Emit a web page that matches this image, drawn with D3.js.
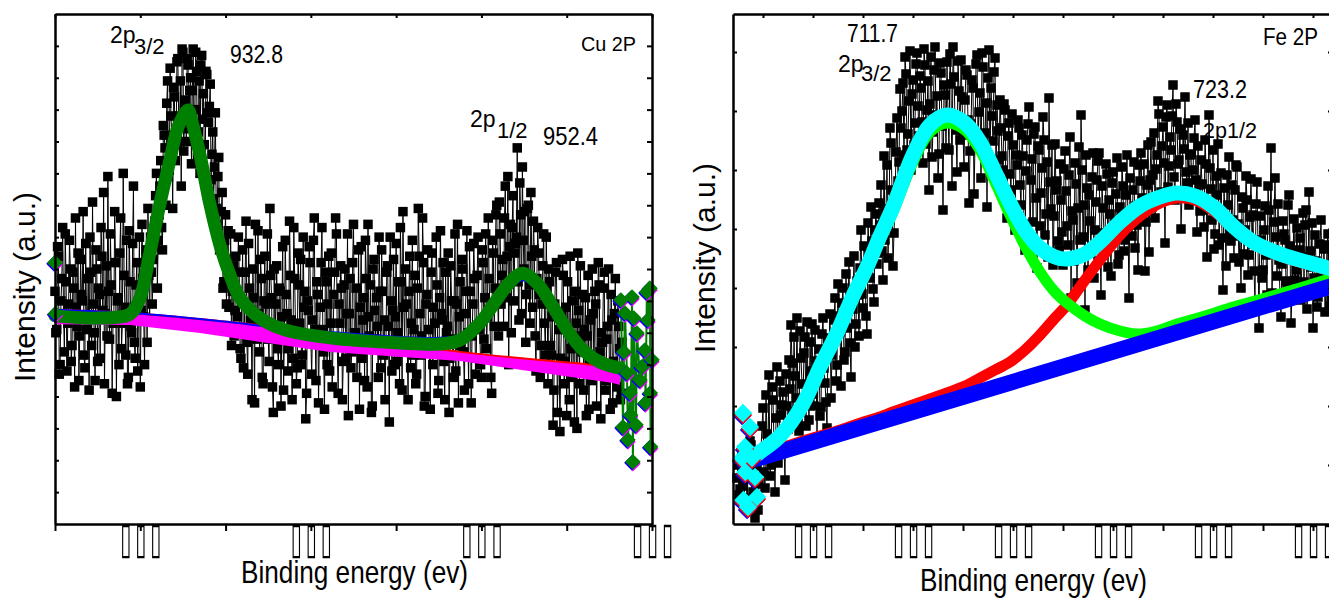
<!DOCTYPE html>
<html>
<head>
<script src="https://d3js.org/d3.v7.min.js"></script>
<style>
  body { margin: 0; background: #fff; }
  svg text { font-family: "Liberation Sans", Arial, sans-serif; fill: #000; }
</style>
</head>
<body>
<svg class="chart"></svg>
<script>
// ---------- Cu 2p panel ----------
// scan read at 0.1 eV from 925.0, plus the in-between points at +0.05 eV
var cuStart = 925.0, cuStep = 0.05;
var cuCounts = [
  7.3, 6.1, 8.4, 5.0, 7.7, 6.6, 9.1, 4.8, 6.9, 8.0,
  5.6, 7.4, 9.6, 6.2, 4.5, 8.3, 7.0, 5.3, 8.8, 6.4,
  4.2, 7.9, 10.1, 6.0, 8.6, 5.1, 7.2, 9.3, 6.7, 4.4,
  8.1, 10.9, 5.8, 7.5, 6.3, 9.8, 4.0, 7.1, 8.5, 5.5,
  11.0, 6.8, 8.9, 4.6, 7.6, 6.0, 10.6, 5.2, 8.2, 7.0,
  4.3, 9.4, 6.5, 8.0, 5.7, 7.8, 9.0, 6.9, 8.7, 10.3,
  7.4, 9.7, 11.4, 8.6, 12.2, 10.0, 13.9, 11.1, 12.8, 9.9,
  13.4, 11.9, 14.6, 12.5, 10.6, 14.8, 13.1, 12.0, 14.4, 13.6,
  11.3, 14.9, 13.0, 14.2, 12.3, 11.0, 14.7, 13.5, 10.8, 14.1,
  12.6, 13.8, 11.6, 10.2, 12.9, 9.4, 11.5, 8.8, 10.4, 7.6,
  9.7, 8.3, 6.8, 9.1, 7.3, 5.9, 8.4, 6.5, 7.9, 5.2,
  8.6, 6.1, 9.5, 4.7, 7.4, 6.7, 8.0, 3.8, 6.3, 9.2,
  5.4, 7.7, 4.4, 8.4, 6.9, 5.8, 9.9, 7.1, 3.5, 6.0,
  8.1, 5.0, 7.3, 6.5, 4.2, 8.9, 6.6, 5.5, 7.8, 3.9,
  9.3, 6.2, 4.9, 7.5, 8.3, 5.3, 6.8, 3.3, 7.0, 8.7,
  5.7, 6.4, 9.6, 4.5, 7.2, 5.9, 8.2, 6.1, 3.6, 7.6,
  6.9, 4.8, 8.5, 5.6, 7.9, 9.1, 4.1, 6.3, 7.4, 5.1,
  8.0, 6.6, 3.4, 7.7, 5.4, 9.4, 6.0, 4.6, 8.6, 6.8,
  5.2, 7.1, 8.9, 4.3, 6.5, 7.5, 3.7, 8.3, 5.8, 6.2,
  9.0, 4.9, 7.3, 6.4, 5.5, 8.1, 3.2, 7.0, 6.7, 5.0,
  8.8, 6.0, 4.4, 7.6, 9.8, 5.7, 6.9, 3.9, 8.4, 6.3,
  5.3, 7.8, 4.7, 9.9, 6.6, 5.9, 8.2, 4.0, 7.2, 6.1,
  3.6, 8.5, 6.8, 5.4, 7.5, 4.5, 9.2, 6.4, 5.1, 7.9,
  6.2, 3.5, 8.1, 5.8, 7.0, 4.8, 9.4, 6.5, 5.6, 8.0,
  4.2, 7.3, 6.0, 8.7, 3.8, 6.9, 7.7, 5.2, 9.0, 6.3,
  4.6, 8.2, 7.1, 5.5, 9.6, 6.7, 4.1, 8.5, 7.4, 10.0,
  5.9, 9.1, 7.8, 6.2, 10.6, 8.4, 5.0, 9.4, 9.3, 7.0,
  8.8, 11.8, 6.4, 9.7, 11.2, 8.0, 5.7, 9.9, 7.5, 10.4,
  6.8, 8.6, 4.8, 9.3, 7.2, 5.6, 8.1, 6.3, 9.0, 4.4,
  7.6, 5.3, 3.1, 6.9, 8.2, 4.9, 2.9, 6.6, 7.8, 5.1,
  3.4, 6.0, 8.4, 4.6, 5.8, 7.3, 3.0, 6.7, 8.1, 5.4,
  4.2, 7.1, 5.9, 3.6, 6.4, 8.0, 4.8, 6.9, 5.2, 7.5,
  3.3, 5.7, 7.9, 4.5, 6.2, 5.0, 7.2, 3.8, 6.6, 4.9,
  7.0, 5.5, 4.1
];
var cuCountsMid = [
  6.0, 8.7, 4.7, 7.0, 9.3, 5.4, 7.6, 6.3, 8.9, 5.1,
  7.9, 4.3, 6.8, 8.5, 5.9, 7.2, 9.8, 4.9, 6.1, 7.7,
  9.0, 5.6, 6.9, 4.5, 8.0, 7.4, 5.2, 8.4, 10.4, 6.6,
  5.9, 7.3, 9.1, 4.1, 6.5, 8.2, 7.0, 5.0, 9.6, 6.3,
  7.8, 5.3, 4.4, 9.2, 6.2, 8.8, 5.7, 7.5, 4.8, 9.0,
  6.7, 7.7, 5.0, 8.6, 9.9, 6.4, 7.9, 8.3, 9.5, 11.0,
  8.9, 10.6, 9.3, 12.5, 11.8, 13.2, 10.9, 14.3, 12.1, 13.7,
  11.4, 14.5, 12.8, 13.9, 14.9, 11.7, 13.3, 14.6, 12.4, 14.0,
  13.6, 12.2, 14.8, 11.5, 13.9, 14.4, 12.7, 11.9, 14.2, 12.9,
  13.1, 10.8, 12.3, 11.2, 9.9, 10.9, 8.6, 9.8, 7.4, 8.9,
  6.9, 9.2, 7.6, 5.6, 8.1, 6.7, 7.3, 9.0, 5.5, 7.0,
  4.9, 7.9, 5.7, 8.8, 6.4, 3.9, 7.1, 9.4, 5.8, 6.6,
  8.3, 4.6, 7.0, 6.2, 9.1, 5.1, 7.8, 4.3, 8.0, 6.9,
  5.5, 7.4, 3.7, 8.7, 6.0, 7.2, 4.8, 9.5, 6.4, 5.2,
  7.7, 4.4, 8.5, 6.3, 5.0, 9.0, 7.3, 4.1, 6.7, 8.2,
  4.7, 8.9, 6.1, 7.6, 3.8, 6.8, 9.3, 5.4, 7.9, 5.0,
  8.4, 6.3, 4.3, 7.2, 9.6, 5.6, 6.9, 8.1, 3.9, 7.5,
  5.2, 9.1, 6.6, 4.9, 8.2, 6.0, 7.4, 5.5, 3.6, 8.7,
  6.4, 4.5, 7.7, 9.4, 5.9, 3.5, 8.0, 6.7, 7.1, 4.6,
  7.3, 8.6, 5.3, 3.9, 7.9, 6.2, 9.0, 4.8, 8.3, 6.5,
  5.1, 7.6, 9.3, 4.2, 6.8, 8.0, 5.6, 7.3, 4.9, 8.9,
  6.1, 4.4, 7.4, 8.4, 5.3, 9.6, 3.7, 6.9, 8.6, 5.7,
  7.9, 5.0, 6.3, 9.0, 4.1, 7.1, 6.6, 8.2, 3.9, 6.0,
  8.5, 5.2, 7.0, 4.6, 9.1, 6.9, 3.8, 7.6, 8.3, 5.4,
  6.6, 9.2, 4.4, 7.3, 5.9, 8.8, 4.7, 7.8, 6.1, 5.0,
  8.6, 5.8, 9.1, 6.5, 7.7, 4.6, 8.9, 6.2, 9.7, 7.3,
  10.1, 6.9, 8.3, 9.6, 7.1, 10.9, 8.7, 6.0, 10.3, 8.5,
  9.0, 7.6, 10.7, 6.6, 8.9, 9.8, 7.2, 10.0, 6.3, 8.4,
  9.5, 5.9, 7.7, 8.5, 4.6, 6.9, 9.1, 5.3, 7.4, 8.0,
  5.6, 6.5, 4.2, 7.9, 3.5, 6.1, 5.2, 8.3, 4.4, 6.8,
  7.6, 3.9, 5.5, 7.0, 3.2, 6.3, 8.5, 4.4, 5.9, 7.2,
  6.1, 3.4, 7.8, 5.0, 4.5, 6.6, 7.3, 3.7, 8.2, 5.4,
  6.0, 7.4, 4.2, 5.8, 8.0, 3.6, 6.4, 5.1, 7.7, 4.3,
  6.2, 3.9, 5.7
];
var cuFitE = [925.0, 927.64, 929.4, 929.98, 930.57, 931.16, 931.74, 932.21, 932.8, 933.03,
  933.5, 934.09, 934.67, 935.26, 935.85, 937.02, 938.48, 941.12, 945.23, 947.57,
  948.74, 949.92, 950.8, 951.68, 952.4, 953.26, 954.14, 955.02, 955.96, 956.95, 958.12];
var cuEnvelope = [6.53, 6.46, 6.59, 7.09, 8.53, 10.07, 11.42, 12.45, 12.99, 12.61,
  11.58, 10.01, 8.75, 7.81, 7.09, 6.46, 6.09, 5.84, 5.68, 5.65,
  5.77, 6.31, 6.96, 7.59, 7.87, 7.56, 6.87, 6.09, 5.46, 5.08, 4.89];
var cuBlueE = [925.0, 929.4, 933.5, 939.36, 941.12, 945.23, 947.57, 948.74, 949.92, 950.8,
  951.68, 952.4, 953.26, 954.14, 955.02, 955.96, 956.95, 958.12];
var cuBlue = [6.71, 6.62, 6.43, 6.09, 6.02, 5.87, 5.84, 5.9, 6.09, 6.75,
  7.37, 7.65, 7.34, 6.65, 5.87, 5.27, 4.96, 4.86];
var cuBgE = [925.0, 929.4, 933.5, 941.12, 948.74, 957.71, 958.12];
var cuBgTop = [6.71, 6.62, 6.43, 5.99, 5.4, 4.93, 4.89];
var cuBgLow = [6.27, 6.24, 5.99, 5.4, 5.11, 4.42, 4.36];
var cuEdgeE = [925.0, 925.03, 958.18, 958.3, 958.36, 958.42, 958.53, 958.59, 958.71, 958.75,
  958.83, 958.88, 958.94, 959.06, 959.12, 959.3, 959.41, 959.59, 959.62, 959.7,
  959.76, 959.88, 959.9, 959.92, 960.0];
var cuEdge = [8.2, 6.6, 7.03, 3.04, 5.4, 6.62, 4.74, 2.64, 4.11, 3.42,
  7.12, 1.95, 6.46, 3.11, 5.99, 4.52, 4.93, 5.46, 3.8, 7.28,
  6.4, 7.4, 4.11, 2.42, 5.15];
var cuTicks = [925, 930, 935, 940, 945, 950, 955, 960];
var cuLabelled = [930, 940, 950, 960];
var cuYTicks = [1, 2, 3, 4, 5, 6, 7, 8, 9, 10, 11, 12, 13, 14, 15];

// ---------- Fe 2p panel ----------
var feStart = 701.2, feStep = 0.05;
var feCounts = [
  4.6, 2.9, 6.2, 3.8, 7.1, 1.9, 5.5, 7.9, 3.2, 0.6, 5.8, 4.1,
  7.4, 11.6, 3.6, 9.0, 14.9, 5.9, 12.4, 3.2, 15.7, 8.6, 10.9, 13.2, 4.4, 11.8, 16.4,
  19.9, 11.2, 14.8, 20.6, 9.3, 16.6, 12.4, 18.7, 20.2, 10.4,
  15.3, 13.0, 19.4, 8.6, 17.5, 11.7, 20.6, 14.1, 9.6, 17.9,
  12.6, 18.4, 22.6, 15.9, 20.8, 13.8, 23.6, 17.2, 19.6, 26.2, 14.7, 21.5, 17.7, 24.3, 18.8,
  29.4, 21.6, 25.4, 19.0, 27.4, 31.7, 23.5, 29.4, 26.0, 32.1,
  33.9, 24.4, 28.4, 35.9, 30.6, 38.1, 25.8, 32.4, 40.6, 36.2,
  39.6, 44.1, 46.7, 37.4, 42.3, 35.4, 44.4, 40.1, 47.1, 38.8,
  43.6, 36.1, 45.9, 41.4, 33.4, 46.7, 39.2, 47.7, 42.8, 37.0,
  45.1, 31.4, 42.9, 46.2, 37.4, 44.0, 47.7, 40.6, 35.2, 43.3,
  46.4, 38.9, 42.4, 44.9, 32.1, 40.0, 43.6, 37.9, 46.9, 41.2,
  34.6, 45.7, 39.1, 31.7, 47.4, 43.6, 38.3, 46.6, 41.9, 36.4,
  39.6, 35.4, 41.4, 30.6, 40.1, 33.4, 37.9, 29.4, 35.9, 39.6,
  31.9, 36.8, 27.4, 38.4, 41.7, 34.4, 30.2, 39.7, 25.6, 37.4,
  33.1, 40.7, 28.9, 36.2, 42.6, 31.5, 25.9, 38.0, 34.3, 27.4,
  32.4, 25.9, 37.3, 29.8, 34.9, 22.6, 30.4, 36.1, 24.1, 37.7,
  40.9, 28.7, 21.4, 33.6, 32.9, 27.1, 37.1, 29.4, 34.4, 37.1,
  22.9, 31.6, 27.9, 35.0, 32.4, 24.8, 35.2, 30.1, 36.6, 26.9,
  30.9, 33.8, 28.4, 36.9, 22.6, 31.2, 33.4, 27.6, 29.9, 35.9,
  37.1, 31.4, 25.3, 33.9, 27.2,
  38.2, 34.9, 30.6, 36.9, 41.0, 33.2, 39.7, 28.1, 41.9, 35.8,
  37.4, 43.9, 32.4, 40.2, 36.4, 29.5, 38.9, 42.7, 34.1, 31.9,
  37.0, 35.4, 40.4, 29.2, 33.9,
  36.4, 31.4, 38.4, 26.7, 40.9, 33.5, 37.4, 29.0, 32.9, 27.9,
  35.1, 23.4, 30.8, 34.9, 36.7, 28.3, 30.4, 33.4, 35.7, 26.2,
  23.6, 31.6, 29.4, 32.4, 26.9, 34.5, 30.9, 22.1, 34.2, 19.6,
  28.4, 25.4, 31.8, 22.9, 31.4, 37.6, 27.0, 34.6, 24.8, 26.4,
  20.7, 30.3, 28.4, 23.5, 32.9, 20.1, 26.8, 24.4, 29.6, 27.4,
  22.4, 31.1, 29.9, 21.5, 33.2, 25.7, 19.6, 28.9, 21.7, 25.9,
  30.4, 23.4, 21.2, 27.9, 24.9, 22.4
];
var feCountsMid = [
  5.9, 3.5, 7.4, 2.6, 6.0, 4.9, 8.3, 2.2, 6.8, 4.0, 1.4, 7.2,
  9.8, 5.2, 12.9, 7.0, 4.8, 13.7, 8.2, 10.6, 6.1, 14.3, 11.9, 7.6, 15.0, 9.5, 13.5,
  16.1, 18.7, 12.6, 10.1, 19.3, 14.0, 17.1, 9.8, 13.6, 18.2,
  20.0, 11.8, 16.3, 14.9, 10.8, 19.0, 15.6, 12.2, 18.6, 21.0,
  16.9, 20.4, 14.3, 24.0, 19.2, 22.1, 16.4, 25.0, 21.3, 18.1, 23.2, 26.8, 20.0, 22.9, 25.6,
  23.0, 27.8, 20.8, 30.1, 24.6, 28.3, 22.2, 31.0, 27.1, 29.9,
  27.3, 36.8, 31.5, 26.6, 39.6, 33.4, 29.1, 37.2, 34.3, 43.5,
  41.3, 36.9, 45.0, 39.0, 47.3, 43.0, 37.9, 46.0, 41.8, 44.8,
  40.2, 47.5, 38.0, 44.3, 42.0, 36.7, 45.4, 40.9, 34.6, 46.1,
  39.8, 43.9, 37.6, 41.0, 47.0, 33.8, 44.7, 39.4, 46.3, 38.4,
  42.7, 35.7, 45.4, 40.4, 37.3, 44.4, 33.0, 46.0, 39.0, 43.1,
  47.1, 37.8, 42.1, 44.6, 36.0, 40.8, 45.2, 34.9, 39.3, 42.4,
  36.8, 42.0, 32.5, 38.8, 35.0, 41.0, 31.2, 36.9, 40.4, 33.9,
  38.9, 30.0, 35.3, 40.0, 28.3, 36.5, 39.0, 32.6, 37.8, 29.8,
  35.6, 38.4, 31.0, 26.7, 34.2, 37.9, 30.8, 33.4, 28.3, 36.0,
  29.2, 35.5, 33.3, 27.9, 38.7, 31.3, 26.3, 34.0, 31.6, 28.4,
  35.4, 31.9, 36.9, 25.4, 30.3, 34.7, 24.6, 32.2, 36.3, 27.8,
  33.8, 29.1, 36.0, 25.7, 31.0, 34.1, 28.6, 33.0, 26.0, 31.7,
  35.7, 27.3, 32.9, 30.0, 34.6, 28.8, 36.2, 31.8, 25.4, 34.3,
  32.6, 36.0, 30.2, 37.9, 34.4,
  31.7, 39.1, 35.5, 42.3, 32.8, 37.8, 36.1, 40.7, 33.7, 38.7,
  40.8, 34.7, 42.0, 36.0, 39.5, 33.0, 37.5, 35.2, 40.1, 36.9,
  32.7, 38.6, 34.4, 37.8, 31.3,
  34.0, 29.7, 36.0, 32.2, 35.6, 30.4, 27.5, 34.8, 38.0, 31.0,
  28.6, 33.6, 25.8, 31.9, 29.0, 33.9, 26.6, 35.9, 30.0, 28.8,
  32.7, 27.0, 34.8, 24.9, 30.7, 28.0, 25.3, 32.0, 27.9, 30.8,
  24.6, 29.4, 26.9, 33.8, 27.5, 23.1, 30.2, 28.7, 32.0, 22.8,
  26.0, 29.0, 24.3, 31.9, 27.8, 22.9, 30.5, 25.4, 23.2, 28.6,
  26.7, 24.2, 31.4, 23.8, 27.3, 30.1, 24.6, 26.3, 22.7, 28.0,
  25.1, 27.5, 23.6, 29.0, 21.8, 26.7
];
var feFitE = [701.6, 702.35, 703.35, 704.5, 705.35, 706.2, 706.95, 707.7, 708.35, 709.0,
  710.0, 710.85, 711.7, 712.6, 713.35, 714.1, 714.85, 715.6, 716.35, 717.1,
  717.7, 718.6, 719.35, 720.35, 721.35, 722.35, 723.2, 724.1, 725.1, 726.0,
  727.1, 728.5, 729.85, 731.1];
var feEnvelope = [6.1, 7.2, 8.8, 12.0, 15.7, 19.1, 22.6, 25.7, 28.8, 31.7,
  36.9, 39.9, 40.9, 40.1, 38.2, 35.2, 32.1, 29.4, 27.6, 26.7,
  26.5, 27.0, 28.2, 30.2, 31.8, 32.7, 33.1, 32.8, 31.6, 29.8,
  28.1, 26.9, 26.1, 25.4];
var fePeak1 = [6.0, 7.1, 8.7, 11.9, 15.5, 18.8, 22.2, 25.4, 28.4, 31.2,
  36.2, 39.2, 40.1, 39.4, 37.4, 34.2, 30.9, 27.8, 25.2, 23.2,
  22.1, 20.8, 20.0, 19.3, 19.0, 19.4, 20.0, 20.5, 21.1, 21.7,
  22.3, 23.1, 23.9, 24.7];
var fePeak2 = [6.4, 7.1, 7.6, 8.3, 8.8, 9.3, 9.8, 10.3, 10.7, 11.2,
  11.9, 12.5, 13.1, 13.8, 14.6, 15.4, 16.2, 17.4, 18.9, 20.6,
  21.9, 24.4, 26.4, 28.9, 30.8, 32.1, 32.6, 32.4, 31.2, 29.6,
  27.9, 26.7, 25.9, 25.2];
var feBgE = [701.5, 702.5, 731.1];
var feBg = [6.2, 6.7, 23.9];
var feEdgeE = [701.45, 701.5, 701.52, 701.6, 701.62, 701.75, 701.85, 701.95, 702.1, 702.2];
var feEdge = [6.6, 11.1, 2.4, 7.7, 5.2, 1.7, 9.7, 6.6, 4.7, 2.7];
var feTicks = [702.5, 705, 707.5, 710, 712.5, 715, 717.5, 720, 722.5, 725, 727.5, 730];
var feLabelled = [705, 710, 715, 720, 725, 730];
var feYTicks = [5.9, 11.8, 17.7, 23.6, 29.5, 35.4, 41.3, 47.2];

var svg = d3.select(".chart").attr("width", 1329).attr("height", 599);

var cuX = d3.scaleLinear().domain([925, 960]).range([55, 652]),
    cuY = d3.scaleLinear().domain([0, 16]).range([524, 14]);
var feX = d3.scaleLinear().domain([701, 731]).range([733, 1333]),
    feY = d3.scaleLinear().domain([0, 51]).range([524, 14]);

function pairs(xs, ys) { return xs.map((x, i) => [x, ys[i]]); }
// interleave the 0.1 eV readings with the in-between ones
function scan(start, step, main, mid) {
  var out = [];
  main.forEach((v, i) => {
    out.push([start + 2 * i * step, v]);
    if (mid[i] !== undefined) out.push([start + (2 * i + 1) * step, mid[i]]);
  });
  return out;
}

function frame(x, y, ticks, labelled, yTicks) {
  var x0 = x.range()[0], x1 = x.range()[1], y0 = y.range()[0], y1 = y.range()[1];
  var b = svg.append("g").attr("transform", "translate(0," + y0 + ")")
    .call(d3.axisBottom(x).tickValues(ticks).tickSizeInner(7).tickSizeOuter(0)
      .tickFormat(d => labelled.indexOf(d) >= 0 ? "\u25AF\u25AF\u25AF" : ""));
  // narrow tall boxes, as in the original figure
  b.selectAll("text").attr("x", 4.25).attr("y", 28.5).attr("dy", null).attr("fill", "#000")
    .attr("transform", "scale(0.46,1)")
    .style("font-family", "'DejaVu Sans'").style("font-size", "44px")
    .style("letter-spacing", "8.5px").style("filter", "grayscale(1)");
  svg.append("g").attr("transform", "translate(0," + y1 + ")")
    .call(d3.axisTop(x).tickValues(ticks).tickSizeInner(-4).tickSizeOuter(0).tickFormat(""));
  svg.append("g").attr("transform", "translate(" + x0 + ",0)")
    .call(d3.axisLeft(y).tickValues(yTicks).tickSizeInner(-4).tickSizeOuter(0).tickFormat(""));
  svg.append("g").attr("transform", "translate(" + x1 + ",0)")
    .call(d3.axisRight(y).tickValues(yTicks).tickSizeInner(-5).tickSizeOuter(0).tickFormat(""));
  svg.selectAll(".domain").attr("stroke", "#000").attr("stroke-width", 2.5);
  svg.selectAll(".tick line").attr("stroke", "#000").attr("stroke-width", 2);
}

function scatter(data, x, y, size) {
  svg.append("path").datum(data)
    .attr("d", d3.line().x(d => x(d[0])).y(d => y(d[1])))
    .attr("fill", "none").attr("stroke", "#000").attr("stroke-width", 1);
  svg.append("g").selectAll("rect").data(data).enter().append("rect")
    .attr("x", d => x(d[0]) - size / 2).attr("y", d => y(d[1]) - size / 2)
    .attr("width", size).attr("height", size).attr("fill", "#000");
}

function curve(data, x, y, color, width) {
  svg.append("path").datum(data)
    .attr("d", d3.line().curve(d3.curveCatmullRom.alpha(0.5)).x(d => x(d[0])).y(d => y(d[1])))
    .attr("fill", "none").attr("stroke", color).attr("stroke-width", width)
    .attr("stroke-linecap", "round");
}

function diamonds(data, x, y, color, side, dx, dy) {
  svg.append("g").selectAll("rect").data(data).enter().append("rect")
    .attr("x", -side / 2).attr("y", -side / 2).attr("width", side).attr("height", side)
    .attr("transform", d => "translate(" + (x(d[0]) + dx) + "," + (y(d[1]) + dy) + ") rotate(45)")
    .attr("fill", color);
}

// ---- Cu panel drawing ----
scatter(scan(cuStart, cuStep, cuCounts, cuCountsMid), cuX, cuY, 9.5);
svg.append("path").datum(cuBgE.map((e, i) => [e, cuBgTop[i], cuBgLow[i]]))
  .attr("d", d3.area().x(d => cuX(d[0])).y0(d => cuY(d[2])).y1(d => cuY(d[1])))
  .attr("fill", "#ff00ff");
curve(pairs(cuBgE, cuBgTop), cuX, cuY, "#ff0000", 2);
curve(pairs(cuBlueE, cuBlue), cuX, cuY, "#0000ff", 2);
curve(pairs(cuFitE, cuEnvelope), cuX, cuY, "#008000", 13);
var cuEdgePts = pairs(cuEdgeE, cuEdge);
svg.append("path").datum(cuEdgePts.slice(2))
  .attr("d", d3.line().x(d => cuX(d[0])).y(d => cuY(d[1])))
  .attr("fill", "none").attr("stroke", "#008000").attr("stroke-width", 2);
diamonds(cuEdgePts, cuX, cuY, "#ff00ff", 11, 0, 2);
diamonds(cuEdgePts, cuX, cuY, "#0000ff", 11, -1, 1);
diamonds(cuEdgePts, cuX, cuY, "#008000", 11, 0, 0);

// ---- Fe panel drawing ----
scatter(scan(feStart, feStep, feCounts, feCountsMid), feX, feY, 9.5);
curve(pairs(feFitE, fePeak2), feX, feY, "#ff0000", 11);
curve(pairs(feFitE, fePeak1), feX, feY, "#00ff00", 11);
svg.append("path").datum(pairs(feBgE, feBg))
  .attr("d", d3.line().x(d => feX(d[0])).y(d => feY(d[1])))
  .attr("fill", "none").attr("stroke", "#0000ff").attr("stroke-width", 16);
curve(pairs(feFitE, feEnvelope), feX, feY, "#00ffff", 15);
var feEdgePts = pairs(feEdgeE, feEdge);
diamonds(feEdgePts, feX, feY, "#0000ff", 13, -1, 3);
diamonds(feEdgePts, feX, feY, "#ff0000", 13, 0, 2);
diamonds(feEdgePts, feX, feY, "#00ffff", 13, 0, 0);

frame(cuX, cuY, cuTicks, cuLabelled, cuYTicks);
frame(feX, feY, feTicks, feLabelled, feYTicks);

// ---- texts ----
function label(x, y, str, size, len) {
  var t = svg.append("text").attr("x", x).attr("y", y).style("font-size", size + "px").text(str);
  if (len) t.attr("textLength", len).attr("lengthAdjust", "spacingAndGlyphs");
  return t;
}
label(110, 43, "2p", 23); label(134, 54, "3/2", 22);
label(230, 63, "932.8", 25, 53);
label(470, 127, "2p", 23); label(497, 138, "1/2", 22);
label(543, 145, "952.4", 25, 55);
label(581, 51, "Cu 2P", 19.5, 55);

label(847, 42, "711.7", 26, 51);
label(838, 72, "2p", 23); label(861, 81, "3/2", 22);
label(1193, 98, "723.2", 26, 54);
label(1203, 138, "2p1/2", 22, 54);
label(1263, 45, "Fe 2P", 24, 55);

label(241, 583, "Binding energy (ev)", 32, 227);
label(920, 591, "Binding energy (ev)", 32, 227);
svg.append("text").attr("transform", "translate(35,287) rotate(-90)")
  .attr("text-anchor", "middle").style("font-size", "30px").text("Intensity (a.u.)");
svg.append("text").attr("transform", "translate(715,258) rotate(-90)")
  .attr("text-anchor", "middle").style("font-size", "30px").text("Intensity (a.u.)");
</script>
</body>
</html>
